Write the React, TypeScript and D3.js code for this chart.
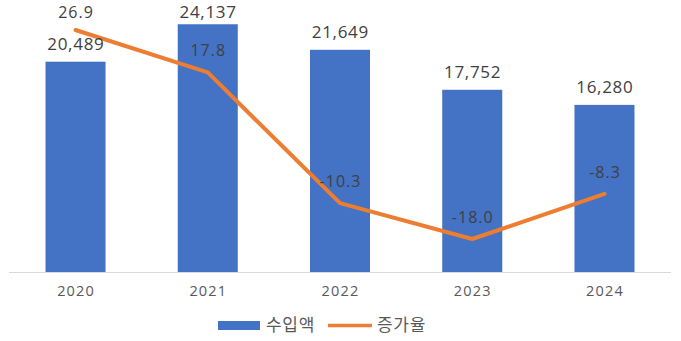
import React from "react";
import * as d3 from "d3";

const years = ["2020", "2021", "2022", "2023", "2024"];
const imports = [20489, 24137, 21649, 17752, 16280];
const growth = [26.9, 17.8, -10.3, -18.0, -8.3];
const seriesNames = ["수입액", "증가율"];

const W = 681;
const H = 341;
const baseY = 272;

export default function App() {
  const x = d3
    .scaleBand<string>()
    .domain(years)
    .range([9.4, 670.6])
    .paddingInner(0.546)
    .paddingOuter(0.273);
  const yBar = d3.scaleLinear().domain([0, 26500]).range([baseY, 0]);
  const yLine = d3.scaleLinear().domain([-20, 30]).range([248.3, 15.6]);
  const cx = (yr: string) => (x(yr) as number) + x.bandwidth() / 2;

  const line = d3
    .line<number>()
    .x((_, i) => cx(years[i]))
    .y((d) => yLine(d));

  const fmt = d3.format(",");
  const numFont = "'Open Sans', 'Noto Sans', sans-serif";
  const krFont = "'Noto Sans CJK KR', sans-serif";

  return (
    <svg
      width={W}
      height={H}
      style={{ position: "absolute", left: 0, top: 0, background: "#fff" }}
    >
      {years.map((yr, i) => (
        <rect
          key={yr}
          x={x(yr)}
          y={yBar(imports[i])}
          width={x.bandwidth()}
          height={baseY - yBar(imports[i])}
          fill="#4472C4"
        />
      ))}
      <line x1={9} x2={671} y1={baseY + 0.5} y2={baseY + 0.5} stroke="#D9D9D9" strokeWidth={1} />
      {years.map((yr) => (
        <text
          key={"t" + yr}
          x={cx(yr) + 0.6}
          y={296}
          textAnchor="middle"
          fontFamily={numFont}
          fontSize={14.5}
          letterSpacing={1.2}
          fill="#595959"
        >
          {yr}
        </text>
      ))}
      <path
        d={line(growth) || ""}
        fill="none"
        stroke="#ED7D31"
        strokeWidth={4}
        strokeLinejoin="round"
        strokeLinecap="round"
      />
      {years.map((yr, i) => (
        <text
          key={"b" + yr}
          x={cx(yr) + 0.35}
          y={Math.max(18, yBar(imports[i]) - 12)}
          textAnchor="middle"
          fontFamily={numFont}
          fontSize={17}
          letterSpacing={0.7}
          fill="#404040"
        >
          {fmt(imports[i])}
        </text>
      ))}
      {years.map((yr, i) => (
        <text
          key={"g" + yr}
          x={cx(yr) + 0.5}
          y={Math.max(18, yLine(growth[i]) - 16)}
          textAnchor="middle"
          fontFamily={numFont}
          fontSize={16}
          letterSpacing={1}
          fill="#404040"
        >
          {growth[i].toFixed(1)}
        </text>
      ))}
      <rect x={218} y={321} width={42} height={9} fill="#4472C4" />
      <text x={266} y={331} fontFamily={krFont} fontSize={17} letterSpacing={0.7} fill="#595959">
        {seriesNames[0]}
      </text>
      <line x1={328} x2={372} y1={325.5} y2={325.5} stroke="#ED7D31" strokeWidth={3.5} />
      <text x={377} y={331} fontFamily={krFont} fontSize={17} letterSpacing={0.7} fill="#595959">
        {seriesNames[1]}
      </text>
    </svg>
  );
}
